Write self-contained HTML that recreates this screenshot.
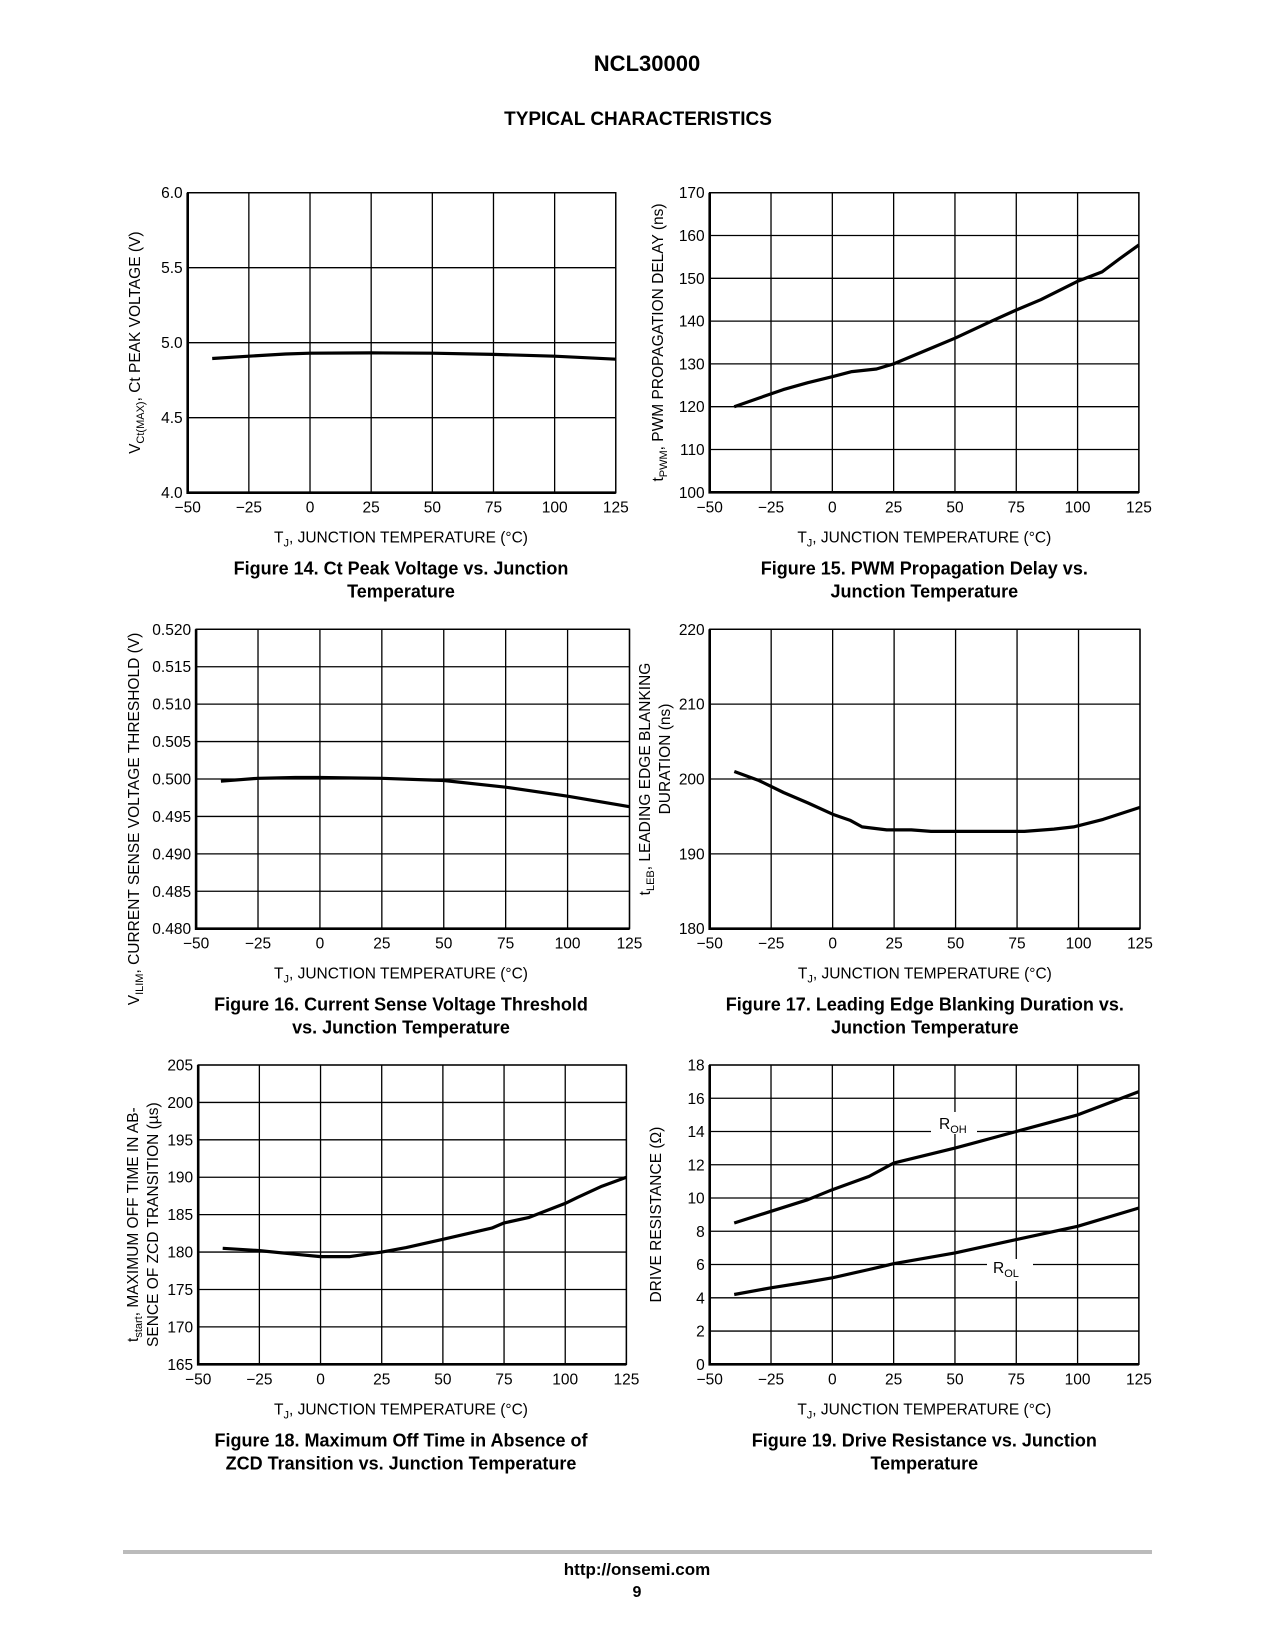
<!DOCTYPE html>
<html><head><meta charset="utf-8"><style>
html,body{margin:0;padding:0;background:#fff}
svg{display:block}
text{font-family:"Liberation Sans",Arial,sans-serif;fill:#000}
.t{font-size:15.5px}
.ax{font-size:15.5px}
.cap{font-size:18px;font-weight:bold}
</style></head><body>
<svg id="page" width="1276" height="1651" viewBox="0 0 1276 1651" xmlns="http://www.w3.org/2000/svg">
<text x="647" y="71" text-anchor="middle" style="font-size:22px;font-weight:bold">NCL30000</text>
<text x="638" y="125" text-anchor="middle" style="font-size:19px;font-weight:bold">TYPICAL CHARACTERISTICS</text>
<line x1="123" y1="1552" x2="1152" y2="1552" stroke="#bbb" stroke-width="4"/>
<text x="637" y="1575" text-anchor="middle" style="font-size:17px;font-weight:bold">http://onsemi.com</text>
<text x="637" y="1597" text-anchor="middle" style="font-size:16px;font-weight:bold">9</text>
<g id="charts"></g>
</svg>
<script>
const xTicks=[-50,-25,0,25,50,75,100,125];
// Figure 14
const f14Ticks=[4.0,4.5,5.0,5.5,6.0];
const f14Labels=["4.0","4.5","5.0","5.5","6.0"];
const f14X=[-40,-25,-10,0,25,50,75,100,125];
const f14Y=[4.895,4.91,4.925,4.93,4.932,4.93,4.922,4.91,4.89];
// Figure 15
const f15Ticks=[100,110,120,130,140,150,160,170];
const f15X=[-40,-30,-20,-10,0,8,18,25,40,50,65,75,85,100,110,117,125];
const f15Y=[120,122,124,125.6,127,128.2,128.8,130,133.6,136,140,142.6,145,149.3,151.5,154.5,157.8];
// Figure 16
const f16Ticks=[0.480,0.485,0.490,0.495,0.500,0.505,0.510,0.515,0.520];
const f16Labels=["0.480","0.485","0.490","0.495","0.500","0.505","0.510","0.515","0.520"];
const f16X=[-40,-25,-10,0,25,50,75,100,125];
const f16Y=[0.4997,0.5001,0.5002,0.5002,0.5001,0.4998,0.4989,0.4977,0.4963];
// Figure 17
const f17Ticks=[180,190,200,210,220];
const f17X=[-40,-30,-20,-10,0,7,12,22,32,40,50,60,78,90,98,110,125];
const f17Y=[201,199.8,198.2,196.8,195.3,194.5,193.6,193.2,193.2,193,193,193,193,193.3,193.6,194.6,196.2];
// Figure 18
const f18Ticks=[165,170,175,180,185,190,195,200,205];
const f18X=[-40,-25,-10,0,12,25,35,50,70,75,85,100,105,115,125];
const f18Y=[180.5,180.2,179.7,179.4,179.4,180,180.6,181.7,183.2,183.9,184.6,186.5,187.3,188.8,190];
// Figure 19
const f19Ticks=[0,2,4,6,8,10,12,14,16,18];
const f19X=[-40,-25,-10,0,15,25,50,75,100,125];
const f19ROH=[8.5,9.2,9.9,10.5,11.3,12.1,13,14,15,16.4];
const f19ROL=[4.2,4.6,4.95,5.2,5.7,6.05,6.7,7.5,8.3,9.4];

const NS="http://www.w3.org/2000/svg";
const root=document.getElementById('charts');
function mk(tag,attrs,parent){const e=document.createElementNS(NS,tag);for(const k in attrs)e.setAttribute(k,attrs[k]);(parent||root).appendChild(e);return e;}

function chart(o){
  const g=mk('g',{});
  
  
  const X=v=>o.l+(v-xTicks[0])/(xTicks[xTicks.length-1]-xTicks[0])*(o.r-o.l);
  const yMin=o.yt[0],yMax=o.yt[o.yt.length-1];
  const Y=v=>o.b-(v-yMin)/(yMax-yMin)*(o.b-o.t);
  xTicks.forEach((v,i)=>{
    const ln=mk('line',{x1:X(v),x2:X(v),y1:o.t,y2:o.b,stroke:'#000','stroke-width':1.3},g);
    
    
    const tx=mk('text',{x:X(v),y:o.b+20,'text-anchor':'middle',class:'t'},g);
    tx.textContent=v<0?'\u2212'+(-v):String(v);
    
    
  });
  o.yt.forEach((v,i)=>{
    const ln=mk('line',{x1:o.l,x2:o.r,y1:Y(v),y2:Y(v),stroke:'#000','stroke-width':1.3},g);
    
    
    const tx=mk('text',{x:o.l-5,y:Y(v)+5.5,'text-anchor':'end',class:'t'},g);
    tx.textContent=o.yl?o.yl[i]:String(v);
    
    
  });
  const fr=mk('rect',{x:o.l,y:o.t,width:o.r-o.l,height:o.b-o.t,fill:'none',stroke:'#000','stroke-width':1.4},g);
  
  
  const ax=mk('path',{d:`M${o.l},${o.t}V${o.b}H${o.r}`,fill:'none',stroke:'#000','stroke-width':2.6},g);
  
  
  o.series.forEach(s=>{
    const d=s.x.map((v,i)=>(i?'L':'M')+X(v).toFixed(1)+','+Y(s.y[i]).toFixed(1)).join('');
    const p=mk('path',{d:d,fill:'none',stroke:'#000','stroke-width':3.2,'stroke-linejoin':'round'},g);
    
    
  });
  const cx=o.cx||(o.l+o.r)/2;
  const xl=mk('text',{x:cx,y:o.b+50,'text-anchor':'middle',class:'ax'},g);
  xl.innerHTML='T<tspan dy="4" style="font-size:11px">J</tspan><tspan dy="-4">, JUNCTION TEMPERATURE (°C)</tspan>';
  
  
  o.cap.forEach((c,i)=>{
    const t=mk('text',{x:cx,y:o.b+82+i*23,'text-anchor':'middle',class:'cap'},g);
    t.textContent=c;
    
    
  });
  o.ylab.forEach((yl,i)=>{
    const t=mk('text',{x:0,y:0,'text-anchor':'middle',class:'ax',transform:`translate(${yl.x},${(o.t+o.b)/2+(yl.dy||0)}) rotate(-90)`},g);
    t.innerHTML=yl.html;
    
    
  });
  return {g,X,Y};
}
const sub=(s)=>`<tspan dy="4" style="font-size:11px">${s}</tspan><tspan dy="-4">`;
chart({name:'figure-14-chart',l:187.7,r:615.8,t:192.7,b:492.7,yt:f14Ticks,yl:f14Labels,cx:401,
  series:[{name:'ct-peak-voltage-line',x:f14X,y:f14Y}],cap:['Figure 14. Ct Peak Voltage vs. Junction','Temperature'],
  ylab:[{x:140,html:'V'+sub('Ct(MAX)')+', Ct PEAK VOLTAGE (V)</tspan>'}]});
chart({name:'figure-15-chart',l:709.7,r:1138.9,t:192.7,b:492.3,yt:f15Ticks,
  series:[{name:'pwm-delay-line',x:f15X,y:f15Y}],cap:['Figure 15. PWM Propagation Delay vs.','Junction Temperature'],
  ylab:[{x:663,html:'t'+sub('PWM')+', PWM PROPAGATION DELAY (ns)</tspan>'}]});
chart({name:'figure-16-chart',l:196.1,r:629.5,t:629.3,b:928.7,yt:f16Ticks,yl:f16Labels,cx:401,
  series:[{name:'current-sense-threshold-line',x:f16X,y:f16Y}],cap:['Figure 16. Current Sense Voltage Threshold','vs. Junction Temperature'],
  ylab:[{x:139,dy:40,html:'V'+sub('ILIM')+', CURRENT SENSE VOLTAGE THRESHOLD (V)</tspan>'}]});
chart({name:'figure-17-chart',l:709.7,r:1140,t:629.3,b:928.7,yt:f17Ticks,
  series:[{name:'leb-duration-line',x:f17X,y:f17Y}],cap:['Figure 17. Leading Edge Blanking Duration vs.','Junction Temperature'],
  ylab:[{x:650,html:'t'+sub('LEB')+', LEADING EDGE BLANKING</tspan>'},{x:670,dy:-20,html:'DURATION (ns)'}]});
chart({name:'figure-18-chart',l:198.2,r:626.4,t:1065,b:1364.3,yt:f18Ticks,cx:401,
  series:[{name:'max-off-time-line',x:f18X,y:f18Y}],cap:['Figure 18. Maximum Off Time in Absence of','ZCD Transition vs. Junction Temperature'],
  ylab:[{x:138,dy:10,html:'t'+sub('start')+', MAXIMUM OFF TIME IN AB-</tspan>'},{x:158,dy:10,html:'SENCE OF ZCD TRANSITION (µs)'}]});
const c6=chart({name:'figure-19-chart',l:709.7,r:1138.9,t:1065,b:1364.3,yt:f19Ticks,
  series:[{name:'roh-line',x:f19X,y:f19ROH},{name:'rol-line',x:f19X,y:f19ROL}],cap:['Figure 19. Drive Resistance vs. Junction','Temperature'],
  ylab:[{x:661,html:'DRIVE RESISTANCE (Ω)'}]});
const r1=mk('rect',{x:931,y:1112,width:46,height:22,fill:'#fff'},c6.g);


const l1=mk('text',{x:939,y:1129,class:'t'},c6.g);
l1.innerHTML='R<tspan dy="4" style="font-size:11px">OH</tspan>';


const r2=mk('rect',{x:987,y:1259,width:46,height:22,fill:'#fff'},c6.g);


const l2=mk('text',{x:993,y:1273,class:'t'},c6.g);
l2.innerHTML='R<tspan dy="4" style="font-size:11px">OL</tspan>';


</script>
</body></html>
